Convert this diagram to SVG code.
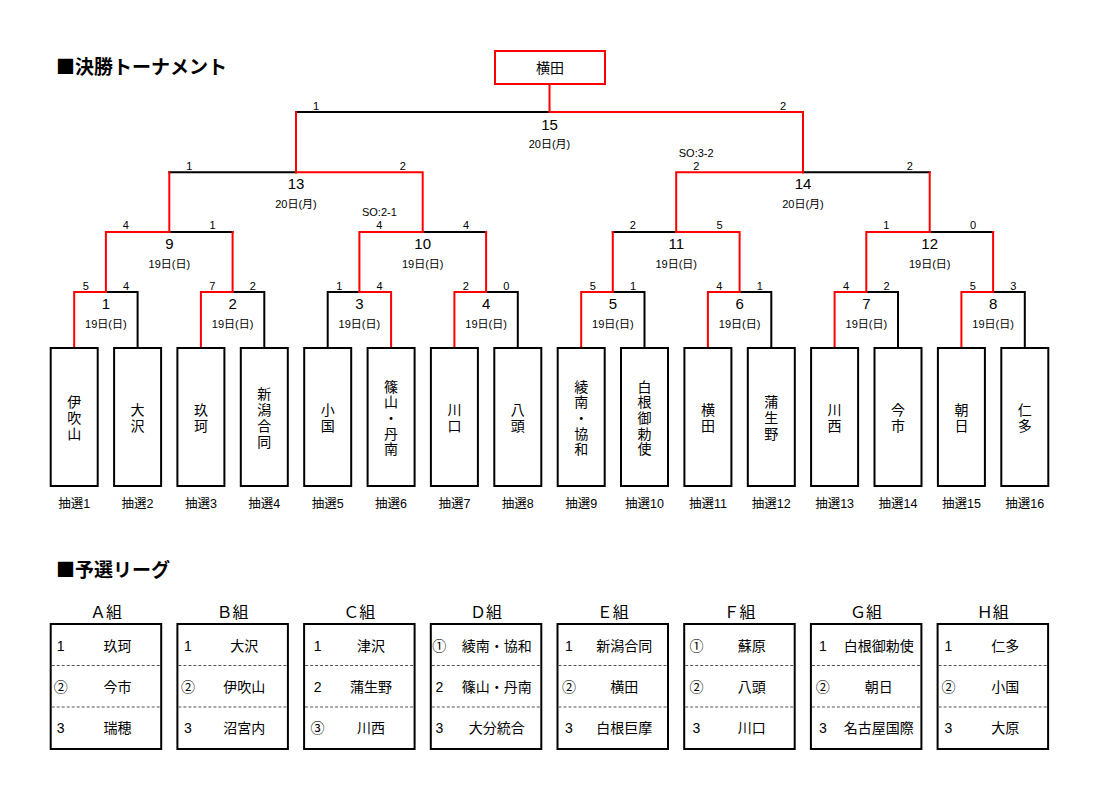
<svg xmlns="http://www.w3.org/2000/svg" width="1100" height="800" viewBox="0 0 1100 800">
<style>
text{font-family:"Liberation Sans","Noto Sans CJK JP",sans-serif;fill:#000}
.h{font-family:"Noto Sans CJK JP",sans-serif;font-size:19px;font-weight:bold}
.bk{fill:none;stroke:#000;stroke-width:2;stroke-linecap:square}
.rd{fill:none;stroke:#f00;stroke-width:2;stroke-linecap:square}
.box{fill:#fff;stroke:#000;stroke-width:2}
.tb{fill:#fff;stroke:#000;stroke-width:2}
.dl{stroke:#555;stroke-width:1;stroke-dasharray:3 2}
.nm{font-family:"Noto Sans CJK JP",sans-serif;font-size:14px;text-anchor:middle}
.vt{font-family:"Noto Sans CJK JP",sans-serif;font-size:14px;text-anchor:middle;writing-mode:vertical-rl;letter-spacing:1.7px}
.lb{font-size:12.5px;text-anchor:middle}
.sc{font-size:11px;text-anchor:middle}
.mn{font-size:15px;text-anchor:middle}
.dt{font-size:11px;text-anchor:middle}
.gh{font-family:"Noto Sans CJK JP",sans-serif;font-size:16px;text-anchor:middle}
.rk{font-size:14px;text-anchor:middle}
.tn{font-family:"Noto Sans CJK JP",sans-serif;font-size:14px;text-anchor:middle}
</style>
<rect width="1100" height="800" fill="#fff"/>
<text class="h" x="56" y="74">■決勝トーナメント</text>
<text class="h" x="56" y="577">■予選リーグ</text>

<g id="connectors">
<g id="black-lines">
<path class="bk" d="M105.9 292H137.6V348"/>
<path class="bk" d="M232.6 292H264.3V348"/>
<path class="bk" d="M327.7 348V292H359.4"/>
<path class="bk" d="M486.1 292H517.8V348"/>
<path class="bk" d="M612.8 292H644.5V348"/>
<path class="bk" d="M739.6 292H771.3V348"/>
<path class="bk" d="M866.3 292H898V348"/>
<path class="bk" d="M993.1 292H1024.8V348"/>
<path class="bk" d="M169.3 232H232.6"/>
<path class="bk" d="M422.7 232H486.1"/>
<path class="bk" d="M612.8 232H676.2"/>
<path class="bk" d="M929.7 232H993.1"/>
<path class="bk" d="M169.3 172.3H296"/>
<path class="bk" d="M803 172.3H929.7"/>
<path class="bk" d="M296 112H549.5"/>
</g>
<g id="red-lines">
<path class="rd" d="M74.2 348V292H105.9"/>
<path class="rd" d="M200.9 348V292H232.6"/>
<path class="rd" d="M359.4 292H391.1V348"/>
<path class="rd" d="M454.4 348V292H486.1"/>
<path class="rd" d="M581.2 348V292H612.8"/>
<path class="rd" d="M707.9 348V292H739.6"/>
<path class="rd" d="M834.6 348V292H866.3"/>
<path class="rd" d="M961.4 348V292H993.1"/>
<path class="rd" d="M105.9 292V232H169.3"/>
<path class="rd" d="M232.6 292V232"/>
<path class="rd" d="M359.4 292V232H422.7"/>
<path class="rd" d="M486.1 292V232"/>
<path class="rd" d="M612.8 292V232"/>
<path class="rd" d="M676.2 232H739.6V292"/>
<path class="rd" d="M866.3 292V232H929.7"/>
<path class="rd" d="M993.1 292V232"/>
<path class="rd" d="M169.3 232V172.3"/>
<path class="rd" d="M296 172.3H422.7V232"/>
<path class="rd" d="M676.2 232V172.3H803"/>
<path class="rd" d="M929.7 232V172.3"/>
<path class="rd" d="M296 172.3V112"/>
<path class="rd" d="M549.5 84V112H803V172.3"/>
</g>
</g>

<g id="scores">
<text class="sc" x="85.7" y="289.5">5</text><text class="sc" x="126.1" y="289.5">4</text>
<text class="sc" x="212.4" y="289.5">7</text><text class="sc" x="252.8" y="289.5">2</text>
<text class="sc" x="339.2" y="289.5">1</text><text class="sc" x="379.6" y="289.5">4</text>
<text class="sc" x="465.9" y="289.5">2</text><text class="sc" x="506.3" y="289.5">0</text>
<text class="sc" x="592.7" y="289.5">5</text><text class="sc" x="633" y="289.5">1</text>
<text class="sc" x="719.4" y="289.5">4</text><text class="sc" x="759.8" y="289.5">1</text>
<text class="sc" x="846.1" y="289.5">4</text><text class="sc" x="886.5" y="289.5">2</text>
<text class="sc" x="972.9" y="289.5">5</text><text class="sc" x="1013.3" y="289.5">3</text>
<text class="sc" x="125.9" y="229">4</text><text class="sc" x="212.6" y="229">1</text>
<text class="sc" x="379.4" y="229">4</text><text class="sc" x="466.1" y="229">4</text>
<text class="sc" x="632.8" y="229">2</text><text class="sc" x="719.6" y="229">5</text>
<text class="sc" x="886.3" y="229">1</text><text class="sc" x="973.1" y="229">0</text>
<text class="sc" x="379.4" y="216">SO:2-1</text>
<text class="sc" x="189.3" y="169.5">1</text><text class="sc" x="402.7" y="169.5">2</text>
<text class="sc" x="696.2" y="169.5">2</text><text class="sc" x="909.7" y="169.5">2</text>
<text class="sc" x="696.2" y="156.5">SO:3-2</text>
<text class="sc" x="316" y="109.5">1</text><text class="sc" x="783" y="109.5">2</text>
</g>

<g id="matches">
<g id="m1"><text class="mn" x="105.9" y="309">1</text><text class="dt" x="105.9" y="327.5">19日(日)</text></g>
<g id="m2"><text class="mn" x="232.6" y="309">2</text><text class="dt" x="232.6" y="327.5">19日(日)</text></g>
<g id="m3"><text class="mn" x="359.4" y="309">3</text><text class="dt" x="359.4" y="327.5">19日(日)</text></g>
<g id="m4"><text class="mn" x="486.1" y="309">4</text><text class="dt" x="486.1" y="327.5">19日(日)</text></g>
<g id="m5"><text class="mn" x="612.8" y="309">5</text><text class="dt" x="612.8" y="327.5">19日(日)</text></g>
<g id="m6"><text class="mn" x="739.6" y="309">6</text><text class="dt" x="739.6" y="327.5">19日(日)</text></g>
<g id="m7"><text class="mn" x="866.3" y="309">7</text><text class="dt" x="866.3" y="327.5">19日(日)</text></g>
<g id="m8"><text class="mn" x="993.1" y="309">8</text><text class="dt" x="993.1" y="327.5">19日(日)</text></g>
<g id="m9"><text class="mn" x="169.3" y="249">9</text><text class="dt" x="169.3" y="267.5">19日(日)</text></g>
<g id="m10"><text class="mn" x="422.7" y="249">10</text><text class="dt" x="422.7" y="267.5">19日(日)</text></g>
<g id="m11"><text class="mn" x="676.2" y="249">11</text><text class="dt" x="676.2" y="267.5">19日(日)</text></g>
<g id="m12"><text class="mn" x="929.7" y="249">12</text><text class="dt" x="929.7" y="267.5">19日(日)</text></g>
<g id="m13"><text class="mn" x="296" y="189.3">13</text><text class="dt" x="296" y="208">20日(月)</text></g>
<g id="m14"><text class="mn" x="803" y="189.3">14</text><text class="dt" x="803" y="208">20日(月)</text></g>
<g id="m15"><text class="mn" x="549.5" y="129.5">15</text><text class="dt" x="549.5" y="148">20日(月)</text></g>
</g>

<g id="champion">
<rect x="495" y="51" width="110" height="33" fill="#fff" stroke="#f00" stroke-width="2"/>
<text class="nm" x="550" y="72.5">横田</text>
</g>

<g id="teams">
<g id="t1"><rect class="box" x="50.7" y="348" width="47" height="138"/><text class="vt" x="74.2" y="418.5">伊吹山</text><text class="lb" x="74.2" y="508">抽選1</text></g>
<g id="t2"><rect class="box" x="114.1" y="348" width="47" height="138"/><text class="vt" x="137.6" y="418.5">大沢</text><text class="lb" x="137.6" y="508">抽選2</text></g>
<g id="t3"><rect class="box" x="177.4" y="348" width="47" height="138"/><text class="vt" x="200.9" y="418.5">玖珂</text><text class="lb" x="200.9" y="508">抽選3</text></g>
<g id="t4"><rect class="box" x="240.8" y="348" width="47" height="138"/><text class="vt" x="264.3" y="418.5">新潟合同</text><text class="lb" x="264.3" y="508">抽選4</text></g>
<g id="t5"><rect class="box" x="304.2" y="348" width="47" height="138"/><text class="vt" x="327.7" y="418.5">小国</text><text class="lb" x="327.7" y="508">抽選5</text></g>
<g id="t6"><rect class="box" x="367.6" y="348" width="47" height="138"/><text class="vt" x="391.1" y="418.5">篠山・丹南</text><text class="lb" x="391.1" y="508">抽選6</text></g>
<g id="t7"><rect class="box" x="430.9" y="348" width="47" height="138"/><text class="vt" x="454.4" y="418.5">川口</text><text class="lb" x="454.4" y="508">抽選7</text></g>
<g id="t8"><rect class="box" x="494.3" y="348" width="47" height="138"/><text class="vt" x="517.8" y="418.5">八頭</text><text class="lb" x="517.8" y="508">抽選8</text></g>
<g id="t9"><rect class="box" x="557.7" y="348" width="47" height="138"/><text class="vt" x="581.2" y="418.5">綾南・協和</text><text class="lb" x="581.2" y="508">抽選9</text></g>
<g id="t10"><rect class="box" x="621" y="348" width="47" height="138"/><text class="vt" x="644.5" y="418.5">白根御勅使</text><text class="lb" x="644.5" y="508">抽選10</text></g>
<g id="t11"><rect class="box" x="684.4" y="348" width="47" height="138"/><text class="vt" x="707.9" y="418.5">横田</text><text class="lb" x="707.9" y="508">抽選11</text></g>
<g id="t12"><rect class="box" x="747.8" y="348" width="47" height="138"/><text class="vt" x="771.3" y="418.5">蒲生野</text><text class="lb" x="771.3" y="508">抽選12</text></g>
<g id="t13"><rect class="box" x="811.1" y="348" width="47" height="138"/><text class="vt" x="834.6" y="418.5">川西</text><text class="lb" x="834.6" y="508">抽選13</text></g>
<g id="t14"><rect class="box" x="874.5" y="348" width="47" height="138"/><text class="vt" x="898" y="418.5">今市</text><text class="lb" x="898" y="508">抽選14</text></g>
<g id="t15"><rect class="box" x="937.9" y="348" width="47" height="138"/><text class="vt" x="961.4" y="418.5">朝日</text><text class="lb" x="961.4" y="508">抽選15</text></g>
<g id="t16"><rect class="box" x="1001.3" y="348" width="47" height="138"/><text class="vt" x="1024.8" y="418.5">仁多</text><text class="lb" x="1024.8" y="508">抽選16</text></g>
</g>

<g id="league">
<g id="gA"><text class="gh" x="105.9" y="617.5">Ａ組</text><rect class="tb" x="50.7" y="624" width="110.5" height="125"/><line class="dl" x1="51.7" y1="665.5" x2="160.2" y2="665.5"/><line class="dl" x1="51.7" y1="707" x2="160.2" y2="707"/>
<text class="rk" x="60.7" y="650.7">1</text><text class="tn" x="117.5" y="650.7">玖珂</text>
<text class="rk" x="60.7" y="691.7">②</text><text class="tn" x="117.5" y="691.7">今市</text>
<text class="rk" x="60.7" y="732.7">3</text><text class="tn" x="117.5" y="732.7">瑞穂</text></g>
<g id="gB"><text class="gh" x="232.6" y="617.5">Ｂ組</text><rect class="tb" x="177.4" y="624" width="110.5" height="125"/><line class="dl" x1="178.4" y1="665.5" x2="286.9" y2="665.5"/><line class="dl" x1="178.4" y1="707" x2="286.9" y2="707"/>
<text class="rk" x="187.9" y="650.7">1</text><text class="tn" x="244.2" y="650.7">大沢</text>
<text class="rk" x="187.9" y="691.7">②</text><text class="tn" x="244.2" y="691.7">伊吹山</text>
<text class="rk" x="187.9" y="732.7">3</text><text class="tn" x="244.2" y="732.7">沼宮内</text></g>
<g id="gC"><text class="gh" x="359.3" y="617.5">Ｃ組</text><rect class="tb" x="304.1" y="624" width="110.5" height="125"/><line class="dl" x1="305.1" y1="665.5" x2="413.6" y2="665.5"/><line class="dl" x1="305.1" y1="707" x2="413.6" y2="707"/>
<text class="rk" x="317.6" y="650.7">1</text><text class="tn" x="370.9" y="650.7">津沢</text>
<text class="rk" x="317.6" y="691.7">2</text><text class="tn" x="370.9" y="691.7">蒲生野</text>
<text class="rk" x="317.6" y="732.7">③</text><text class="tn" x="370.9" y="732.7">川西</text></g>
<g id="gD"><text class="gh" x="486" y="617.5">Ｄ組</text><rect class="tb" x="430.8" y="624" width="110.5" height="125"/><line class="dl" x1="431.8" y1="665.5" x2="540.3" y2="665.5"/><line class="dl" x1="431.8" y1="707" x2="540.3" y2="707"/>
<text class="rk" x="439.3" y="650.7">①</text><text class="tn" x="496.8" y="650.7">綾南・協和</text>
<text class="rk" x="439.3" y="691.7">2</text><text class="tn" x="496.8" y="691.7">篠山・丹南</text>
<text class="rk" x="439.3" y="732.7">3</text><text class="tn" x="496.8" y="732.7">大分統合</text></g>
<g id="gE"><text class="gh" x="612.7" y="617.5">Ｅ組</text><rect class="tb" x="557.5" y="624" width="110.5" height="125"/><line class="dl" x1="558.5" y1="665.5" x2="667" y2="665.5"/><line class="dl" x1="558.5" y1="707" x2="667" y2="707"/>
<text class="rk" x="569" y="650.7">1</text><text class="tn" x="624.3" y="650.7">新潟合同</text>
<text class="rk" x="569" y="691.7">②</text><text class="tn" x="624.3" y="691.7">横田</text>
<text class="rk" x="569" y="732.7">3</text><text class="tn" x="624.3" y="732.7">白根巨摩</text></g>
<g id="gF"><text class="gh" x="739.4" y="617.5">Ｆ組</text><rect class="tb" x="684.2" y="624" width="110.5" height="125"/><line class="dl" x1="685.2" y1="665.5" x2="793.7" y2="665.5"/><line class="dl" x1="685.2" y1="707" x2="793.7" y2="707"/>
<text class="rk" x="696.5" y="650.7">①</text><text class="tn" x="751.7" y="650.7">蘇原</text>
<text class="rk" x="696.5" y="691.7">②</text><text class="tn" x="751.7" y="691.7">八頭</text>
<text class="rk" x="696.5" y="732.7">3</text><text class="tn" x="751.7" y="732.7">川口</text></g>
<g id="gG"><text class="gh" x="866.1" y="617.5">Ｇ組</text><rect class="tb" x="810.9" y="624" width="110.5" height="125"/><line class="dl" x1="811.9" y1="665.5" x2="920.4" y2="665.5"/><line class="dl" x1="811.9" y1="707" x2="920.4" y2="707"/>
<text class="rk" x="822.8" y="650.7">1</text><text class="tn" x="878.8" y="650.7">白根御勅使</text>
<text class="rk" x="822.8" y="691.7">②</text><text class="tn" x="878.8" y="691.7">朝日</text>
<text class="rk" x="822.8" y="732.7">3</text><text class="tn" x="878.8" y="732.7">名古屋国際</text></g>
<g id="gH"><text class="gh" x="992.8" y="617.5">Ｈ組</text><rect class="tb" x="937.6" y="624" width="110.5" height="125"/><line class="dl" x1="938.6" y1="665.5" x2="1047.1" y2="665.5"/><line class="dl" x1="938.6" y1="707" x2="1047.1" y2="707"/>
<text class="rk" x="948.5" y="650.7">1</text><text class="tn" x="1005.3" y="650.7">仁多</text>
<text class="rk" x="948.5" y="691.7">②</text><text class="tn" x="1005.3" y="691.7">小国</text>
<text class="rk" x="948.5" y="732.7">3</text><text class="tn" x="1005.3" y="732.7">大原</text></g>
</g>
</svg>
